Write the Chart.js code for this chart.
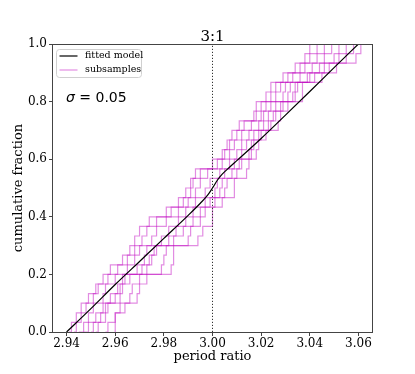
<!DOCTYPE html>
<html>
<head>
<meta charset="utf-8">
<script src="https://cdn.jsdelivr.net/npm/chart.js@4/dist/chart.umd.min.js"></script>
<style>
html,body{margin:0;padding:0;background:#fff;}
canvas{display:block;}
</style>
</head>
<body>
<canvas id="c" width="415" height="374"></canvas>
<script>
// ---- data ----
const titleText = "3:1";
const xTicks = [2.94, 2.96, 2.98, 3.00, 3.02, 3.04, 3.06];
const yTicks = [0.0, 0.2, 0.4, 0.6, 0.8, 1.0];
const resonance = 3.00;
const sigmaText = "\u03c3 = 0.05";

// fitted model CDF
const modelX = [2.94, 2.95, 2.96, 2.97, 2.98, 2.99, 2.995, 2.998, 3.000, 3.002, 3.004, 3.007, 3.01, 3.02, 3.03, 3.04, 3.05, 3.06];
const modelY = [0.0, 0.081, 0.165, 0.245, 0.325, 0.405, 0.447, 0.475, 0.500, 0.527, 0.548, 0.572, 0.595, 0.672, 0.753, 0.835, 0.918, 1.0];

// subsample period ratios (sorted), each step is one sample
const sub1 = [2.941,2.942,2.944,2.946,2.949,2.952,2.955,2.958,2.963,2.966,2.968,2.970,2.974,2.981,2.986,2.989,2.991,2.993,3.000,3.004,3.006,3.008,3.011,3.017,3.018,3.022,3.024,3.029,3.034,3.038,3.040];
const sub2 = [2.945,2.947,2.949,2.951,2.955,2.956,2.960,2.965,2.968,2.970,2.975,2.977,2.981,2.986,2.990,2.993,2.995,2.998,3.004,3.007,3.009,3.012,3.016,3.020,3.022,3.026,3.028,3.033,3.038,3.043,3.046];
const sub3 = [2.952,2.953,2.956,2.957,2.962,2.963,2.966,2.973,2.975,2.977,2.984,2.985,2.989,2.992,2.997,3.001,3.002,3.005,3.009,3.012,3.014,3.017,3.021,3.023,3.026,3.031,3.032,3.039,3.044,3.050,3.052];
const sub4 = [2.960,2.960,2.960,2.964,2.969,2.970,2.973,2.983,2.984,2.984,2.994,2.996,3.000,3.000,3.004,3.009,3.009,3.014,3.015,3.018,3.019,3.022,3.027,3.028,3.031,3.037,3.037,3.045,3.051,3.059,3.061];
const sub5 = [2.947,2.949,2.952,2.955,2.958,2.961,2.963,2.969,2.972,2.973,2.979,2.982,2.986,2.989,2.993,2.997,2.999,3.003,3.007,3.010,3.012,3.015,3.019,3.021,3.024,3.029,3.030,3.036,3.041,3.046,3.049];
const sub6 = [2.956,2.957,2.960,2.962,2.966,2.967,2.970,2.979,2.980,2.981,2.990,2.991,2.995,2.997,3.001,3.005,3.006,3.010,3.012,3.015,3.016,3.020,3.024,3.026,3.029,3.034,3.035,3.042,3.048,3.055,3.058];
const sub7 = [2.943,2.944,2.946,2.948,2.951,2.953,2.957,2.961,2.965,2.968,2.971,2.973,2.977,2.983,2.988,2.991,2.992,2.995,3.002,3.005,3.007,3.010,3.013,3.018,3.020,3.024,3.026,3.031,3.036,3.040,3.043];
const sub8 = [2.950,2.951,2.954,2.956,2.960,2.962,2.964,2.971,2.974,2.976,2.982,2.988,2.992,2.995,2.999,3.003,3.004,3.008,3.011,3.016,3.017,3.019,3.023,3.025,3.028,3.033,3.034,3.040,3.046,3.052,3.055];
const subsamples = [sub1, sub2, sub3, sub4, sub5, sub6, sub7, sub8];

// ---- build ----
const SUB_COLOR = 'rgba(191,0,191,0.45)';
const datasets = [];
datasets.push({
  label: 'fitted model',
  data: modelX.map((x, i) => ({x: x, y: modelY[i]})),
  borderColor: '#000', borderWidth: 1.2, pointRadius: 0,
  cubicInterpolationMode: 'monotone', fill: false, order: 0
});
datasets.push({
  label: 'resonance',
  data: [{x: resonance, y: 0}, {x: resonance, y: 1}],
  borderColor: '#333', borderWidth: 1, borderDash: [1.2, 1.8], pointRadius: 0, order: 0
});
subsamples.forEach((s, k) => {
  const n = s.length;
  datasets.push({
    label: k === 0 ? 'subsamples' : '',
    data: s.map((x, i) => ({x: x, y: i / (n - 1)})),
    borderColor: SUB_COLOR, borderWidth: 1.2, pointRadius: 0,
    stepped: 'before', fill: false, order: 1
  });
});

const L = 52, R = 373, T = 44, B = 332, W = 415, H = 374;

const deco = {
  id: 'deco',
  afterDraw(chart) {
    const ctx = chart.ctx, a = chart.chartArea;
    ctx.save();
    // frame
    ctx.strokeStyle = '#444'; ctx.lineWidth = 1;
    ctx.strokeRect(Math.round(a.left) + 0.5, Math.round(a.top) + 0.5, Math.round(a.right - a.left) - 1, Math.round(a.bottom - a.top));
    // title
    ctx.fillStyle = '#000';
    ctx.font = '15px "DejaVu Serif"';
    ctx.textAlign = 'center'; ctx.textBaseline = 'alphabetic';
    ctx.fillText(titleText, (a.left + a.right) / 2, 41);
    // axis titles
    ctx.font = '13px "DejaVu Serif"';
    ctx.textBaseline = 'middle';
    ctx.fillText('period ratio', (a.left + a.right) / 2, 357);
    ctx.save();
    ctx.translate(19, (a.top + a.bottom) / 2);
    ctx.rotate(-Math.PI / 2);
    ctx.fillText('cumulative fraction', 0, 0);
    ctx.restore();
    // sigma label
    ctx.textAlign = 'left';
    ctx.font = 'italic 14px "DejaVu Sans"';
    ctx.fillText('\u03c3', 66, 98);
    const sw = ctx.measureText('\u03c3').width;
    ctx.font = '14px "DejaVu Sans"';
    ctx.fillText(' = 0.05', 66 + sw, 98);
    // legend
    const bx = 56.5, by = 49.5, bw = 85, bh = 28, r = 3;
    ctx.beginPath();
    ctx.moveTo(bx + r, by); ctx.lineTo(bx + bw - r, by); ctx.quadraticCurveTo(bx + bw, by, bx + bw, by + r);
    ctx.lineTo(bx + bw, by + bh - r); ctx.quadraticCurveTo(bx + bw, by + bh, bx + bw - r, by + bh);
    ctx.lineTo(bx + r, by + bh); ctx.quadraticCurveTo(bx, by + bh, bx, by + bh - r);
    ctx.lineTo(bx, by + r); ctx.quadraticCurveTo(bx, by, bx + r, by);
    ctx.closePath();
    ctx.fillStyle = 'rgba(255,255,255,0.8)'; ctx.fill();
    ctx.strokeStyle = '#d0d0d0'; ctx.lineWidth = 1; ctx.stroke();
    ctx.lineWidth = 1.2;
    ctx.strokeStyle = '#000';
    ctx.beginPath(); ctx.moveTo(59.5, 56); ctx.lineTo(77.5, 56); ctx.stroke();
    ctx.strokeStyle = SUB_COLOR;
    ctx.beginPath(); ctx.moveTo(59.5, 70); ctx.lineTo(77.5, 70); ctx.stroke();
    ctx.fillStyle = '#000';
    ctx.font = '9.5px "DejaVu Serif"';
    ctx.textBaseline = 'middle';
    ctx.fillText('fitted model', 85, 56);
    ctx.fillText('subsamples', 85, 70);
    ctx.restore();
  }
};

new Chart(document.getElementById('c'), {
  type: 'line',
  data: {datasets: datasets},
  options: {
    responsive: false, animation: false, devicePixelRatio: 1,
    layout: {padding: {left: 0, top: T, right: W - R, bottom: 0}},
    plugins: {legend: {display: false}, tooltip: {enabled: false}, title: {display: false}},
    scales: {
      x: {
        type: 'linear', min: 2.934, max: 3.066,
        afterBuildTicks: s => { s.ticks = xTicks.map(v => ({value: v})); },
        afterFit: s => { s.height = H - B; },
        ticks: {callback: v => Number(v).toFixed(2), font: {family: 'DejaVu Serif', size: 12}, color: '#000', padding: 1, maxRotation: 0, autoSkip: false},
        grid: {display: true, drawOnChartArea: false, drawTicks: true, tickLength: 4, color: '#444'},
        border: {display: false}
      },
      y: {
        type: 'linear', min: 0, max: 1,
        afterBuildTicks: s => { s.ticks = yTicks.map(v => ({value: v})); },
        afterFit: s => { s.width = L; },
        ticks: {callback: v => Number(v).toFixed(1), font: {family: 'DejaVu Serif', size: 12}, color: '#000', padding: 2, autoSkip: false},
        grid: {display: true, drawOnChartArea: false, drawTicks: true, tickLength: 3, color: '#444'},
        border: {display: false}
      }
    }
  },
  plugins: [deco]
});
</script>
</body>
</html>
